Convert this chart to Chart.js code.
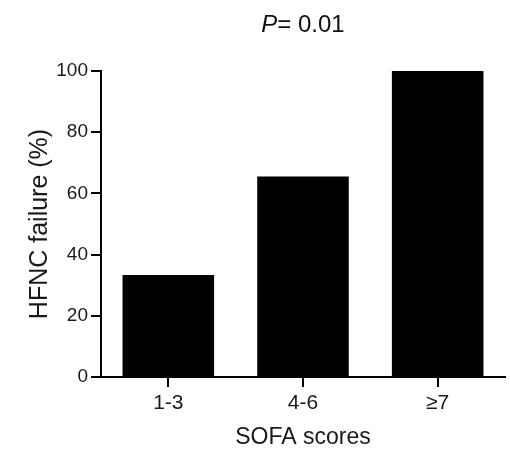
<!DOCTYPE html>
<html>
<head>
<meta charset="utf-8">
<script src="https://cdn.jsdelivr.net/npm/chart.js@4/dist/chart.umd.min.js"></script>
<style>
  html, body { margin: 0; padding: 0; background: #fff; }
  #wrap { width: 510px; height: 454px; }
</style>
</head>
<body>
<div id="wrap"><canvas id="chart" width="510" height="454"></canvas></div>
<script>
// data
const categories = ["1-3", "4-6", "≥7"];
const failureRates = [33.3, 65.5, 100];
const yTicks = [0, 20, 40, 60, 80, 100];

const FONT = "'Liberation Sans', Arial, Helvetica, sans-serif";

// "P= 0.01" with italic P, centred over the plot
const pValueTitle = {
    id: 'pValueTitle',
    afterDraw(chart) {
        const ctx = chart.ctx;
        const area = chart.chartArea;
        const cx = (area.left + area.right) / 2;
        ctx.save();
        ctx.fillStyle = '#111';
        ctx.textBaseline = 'alphabetic';
        ctx.font = 'italic 24px ' + FONT;
        const wP = ctx.measureText('P').width;
        ctx.font = '24px ' + FONT;
        const wRest = ctx.measureText('= 0.01').width;
        const x0 = cx - (wP + wRest) / 2;
        ctx.font = 'italic 24px ' + FONT;
        ctx.fillText('P', x0, 32);
        ctx.font = '24px ' + FONT;
        ctx.fillText('= 0.01', x0 + wP, 32);
        ctx.restore();
    }
};

new Chart(document.getElementById('chart'), {
    type: 'bar',
    data: {
        labels: categories,
        datasets: [{
            data: failureRates,
            backgroundColor: '#000',
            borderWidth: 0,
            barPercentage: 0.68,
            categoryPercentage: 1.0
        }]
    },
    options: {
        responsive: false,
        animation: false,
        layout: { padding: { top: 71, right: 5, bottom: 0, left: 0 } },
        plugins: {
            legend: { display: false },
            tooltip: { enabled: false }
        },
        scales: {
            x: {
                afterFit(scale) { scale.height = 77; },
                grid: {
                    display: true,
                    offset: false, // ticks under the bar centres
                    drawOnChartArea: false,
                    drawTicks: true,
                    tickLength: 10,
                    color: '#000',
                    lineWidth: 2
                },
                border: { display: true, color: '#000', width: 2 },
                ticks: {
                    color: '#1a1a1a',
                    padding: 4,
                    font: { family: FONT, size: 21 }
                },
                title: {
                    display: true,
                    text: 'SOFA scores',
                    color: '#1a1a1a',
                    padding: { top: 0, bottom: 3 },
                    font: { family: FONT, size: 23 }
                }
            },
            y: {
                min: 0,
                max: 100,
                afterFit(scale) { scale.width = 101; },
                afterBuildTicks(scale) {
                    scale.ticks = yTicks.map(v => ({ value: v }));
                },
                grid: {
                    display: true,
                    drawOnChartArea: false,
                    drawTicks: true,
                    tickLength: 10,
                    color: '#000',
                    lineWidth: 2
                },
                border: { display: true, color: '#000', width: 2 },
                ticks: {
                    color: '#1a1a1a',
                    padding: 3,
                    font: { family: FONT, size: 19 }
                },
                title: {
                    display: true,
                    text: 'HFNC failure (%)',
                    color: '#1a1a1a',
                    padding: { top: 25, bottom: 0 },
                    font: { family: FONT, size: 25 }
                }
            }
        }
    },
    plugins: [pValueTitle]
});
</script>
</body>
</html>
